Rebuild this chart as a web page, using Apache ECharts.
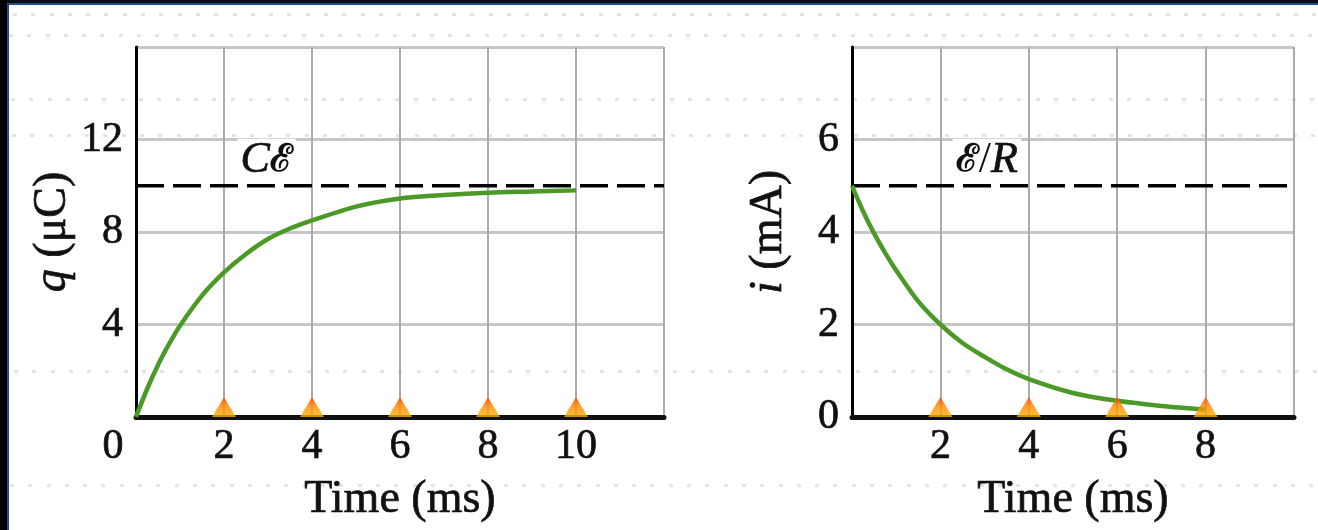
<!DOCTYPE html>
<html>
<head>
<meta charset="utf-8">
<script src="https://cdn.jsdelivr.net/npm/echarts@6/dist/echarts.min.js"></script>
<style>
  html, body { margin: 0; padding: 0; background: #fff; }
  #wrap { position: relative; width: 1318px; height: 530px; overflow: hidden; background: #fff; }
  .edge { position: absolute; }
  .dots { position: absolute; left: 9px; width: 1309px; height: 3px;
          background: repeating-linear-gradient(to right, #e3e3e3 0 4px, transparent 4px 18.3px); }
  #chart { position: absolute; left: 0; top: 0; width: 1318px; height: 530px; }
</style>
</head>
<body>
<div id="wrap">
  <div class="dots" style="top:13px;background-position:4px 0"></div>
  <div class="dots" style="top:34px;background-position:0px 0"></div>
  <div class="dots" style="top:98px;background-position:2px 0"></div>
  <div class="dots" style="top:134px;background-position:3px 0"></div>
  <div class="dots" style="top:370px;background-position:5px 0"></div>
  <div class="dots" style="top:484px;background-position:1px 0"></div>
  <div class="edge" style="left:0;top:0;width:1318px;height:3px;background:#070c16"></div>
  <div class="edge" style="left:7px;top:3px;width:1311px;height:2px;background:#1d4f86"></div>
  <div class="edge" style="left:0;top:0;width:7px;height:530px;background:#000"></div>
  <div class="edge" style="left:7px;top:3px;width:2px;height:527px;background:#1d4f86"></div>
  <div id="chart"></div>
</div>
<script>
// ---- data ----
const chargeTime   = [0, 0.25, 0.5, 0.75, 1, 1.5, 2, 2.5, 3, 3.5, 4, 5, 6, 7, 8, 9, 10];
const chargeValues = [0, 1.2, 2.25, 3.15, 3.95, 5.25, 6.25, 7.05, 7.7, 8.15, 8.5, 9.1, 9.45, 9.6, 9.7, 9.75, 9.8];
const currentTime   = [0, 0.25, 0.5, 0.75, 1, 1.5, 2, 2.5, 3, 3.5, 4, 5, 6, 7, 8];
const currentValues = [5.0, 4.45, 3.97, 3.55, 3.17, 2.5, 2.0, 1.6, 1.3, 1.03, 0.82, 0.52, 0.35, 0.24, 0.16];
const chargeLimit = 10;      // C·ℰ
const currentLimit = 5;      // ℰ/R
const chargeMarkers  = [2, 4, 6, 8, 10];
const currentMarkers = [2, 4, 6, 8];
const chargeXTicks  = [0, 2, 4, 6, 8, 10];
const chargeYTicks  = [4, 8, 12];
const currentXTicks = [2, 4, 6, 8];
const currentYTicks = [0, 2, 4, 6];
const chargeLabelAt  = 2.97;
const currentLabelAt = 3.05;

const FONT = "'Liberation Serif', 'DejaVu Serif', serif";
const TXT = '#111';
const STROKE = { textBorderColor: '#111', textBorderWidth: 0.7 };
const pairs = (xs, ys) => xs.map((x, i) => [x, ys[i]]);
const markers = xs => xs.map(x => [x, 0]);

const chart = echarts.init(document.getElementById('chart'), null, { renderer: 'canvas' });

function xAxis(gridIndex, max, ticks, cornerZero) {
  return {
    type: 'value', gridIndex, min: 0, max, interval: 2,
    name: 'Time (ms)', nameLocation: 'middle', nameGap: 60,
    nameTextStyle: Object.assign({ fontFamily: FONT, fontSize: 46, color: TXT }, STROKE),
    axisLine: { show: true, onZero: false, lineStyle: { color: '#111', width: 5 } },
    axisTick: { show: false },
    axisLabel: Object.assign({
      margin: 9, fontFamily: FONT, fontSize: 42, color: TXT,
      showMinLabel: true, showMaxLabel: true,
      formatter: v => {
        if (!ticks.includes(v)) return '';
        if (v === 0 && cornerZero) return '{z|0}';
        return String(v);
      },
      rich: { z: Object.assign({ fontFamily: FONT, fontSize: 42, color: TXT, padding: [0, 46, 0, 0] }, STROKE) }
    }, STROKE),
    splitLine: { show: true, lineStyle: { color: '#ababab', width: 2 } },
    z: 0
  };
}
function yAxis(gridIndex, max, interval, ticks, name) {
  return {
    type: 'value', gridIndex, min: 0, max, interval,
    name, nameLocation: 'middle', nameGap: 60, nameRotate: 90,
    nameTextStyle: Object.assign({
      fontFamily: FONT, fontSize: 46, color: TXT,
      rich: { it: Object.assign({ fontFamily: FONT, fontSize: 46, fontStyle: 'italic', color: TXT }, STROKE) }
    }, STROKE),
    axisLine: { show: true, onZero: false, lineStyle: { color: '#000', width: 3 } },
    axisTick: { show: false },
    axisLabel: Object.assign({
      margin: 13, fontFamily: FONT, fontSize: 42, color: TXT,
      formatter: v => ticks.includes(v) ? String(v) : ''
    }, STROKE),
    splitLine: { show: true, lineStyle: { color: '#c6c6c6', width: 3 } },
    z: 0
  };
}

const triColor = new echarts.graphic.LinearGradient(0, 0, 0, 1, [
  { offset: 0, color: '#ff4a00' }, { offset: 0.55, color: '#ff9200' }, { offset: 1, color: '#ffb000' }
]);

function dashedSeries(idx, xmax, level, labelAt, labelText) {
  return {
    type: 'line', xAxisIndex: idx, yAxisIndex: idx,
    data: [[0, level], [xmax, level]],
    symbol: 'none', silent: true,
    lineStyle: { color: '#000', width: 3.5, type: [28, 9] },
    z: 3,
    markPoint: {
      symbol: 'rect', symbolSize: 1, silent: true,
      itemStyle: { color: 'rgba(0,0,0,0)' },
      label: {
        show: true, position: 'inside', offset: [0, -25],
        formatter: labelText,
        fontFamily: FONT, fontSize: 44, color: TXT,
        backgroundColor: '#fff', padding: [0, 3, 0, 3],
        rich: {
          it: Object.assign({ fontFamily: FONT, fontSize: 44, fontStyle: 'italic', color: TXT }, STROKE),
          s: { fontFamily: "'DejaVu Serif', serif", fontSize: 38, fontWeight: 'bold', color: TXT }
        }
      },
      data: [{ coord: [labelAt, level] }]
    }
  };
}
function curveSeries(idx, data) {
  return {
    type: 'line', xAxisIndex: idx, yAxisIndex: idx, data,
    symbol: 'none', smooth: 0.3, silent: true,
    lineStyle: { color: '#4b9a28', width: 4.5 }, z: 4
  };
}
function markerSeries(idx, data) {
  return {
    type: 'scatter', xAxisIndex: idx, yAxisIndex: idx, data,
    symbol: 'triangle', symbolSize: [24, 20], symbolOffset: [0, '-50%'],
    itemStyle: { color: triColor }, silent: true, z: 5
  };
}

chart.setOption({
  backgroundColor: 'transparent',
  animation: false,
  grid: [
    { left: 136, top: 47, width: 528, height: 370 },
    { left: 852, top: 47, width: 442, height: 370 }
  ],
  xAxis: [
    xAxis(0, 12, chargeXTicks, true),
    xAxis(1, 10, currentXTicks, false)
  ],
  yAxis: [
    yAxis(0, 16, 4, chargeYTicks, '{it|q} (μC)'),
    yAxis(1, 8, 2, currentYTicks, '{it|i} (mA)')
  ],
  series: [
    dashedSeries(0, 12, chargeLimit, chargeLabelAt, '{it|C}{s|ℰ}'),
    curveSeries(0, pairs(chargeTime, chargeValues)),
    markerSeries(0, markers(chargeMarkers)),
    dashedSeries(1, 10, currentLimit, currentLabelAt, '{s|ℰ}/{it|R}'),
    curveSeries(1, pairs(currentTime, currentValues)),
    markerSeries(1, markers(currentMarkers))
  ]
});
</script>
</body>
</html>
